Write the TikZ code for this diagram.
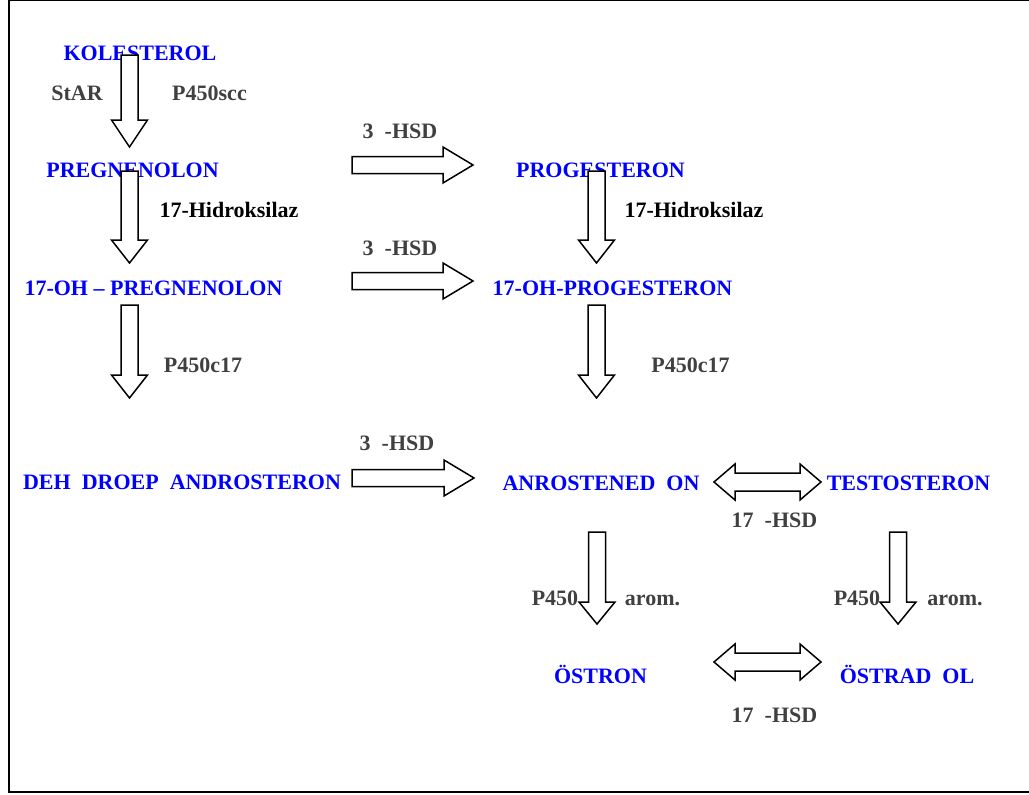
\documentclass[tikz,border=0pt]{standalone}
\usepackage{fontspec}
\setmainfont{Liberation Serif}
\usepackage{xcolor}
\usepackage{tikz}
\usetikzlibrary{calc}
\definecolor{steroidblue}{RGB}{0,0,255}
\definecolor{enzymegray}{RGB}{64,64,64}

% hollow block arrows between two named coordinates
\newcommand\fatdown[3][23pt]{%
  \draw[fatarrow] let \p1=(#2), \p2=(#3) in
    (\x1-8.5pt,\y1) -- (\x1+8.5pt,\y1) -- (\x1+8.5pt,\y2+#1) -- (\x1+18pt,\y2+#1)
    -- (\x1,\y2) -- (\x1-18pt,\y2+#1) -- (\x1-8.5pt,\y2+#1) -- cycle;}
\newcommand\fatright[2]{%
  \draw[fatarrow] let \p1=(#1), \p2=(#2) in
    (\x1,\y1+8.5pt) -- (\x2-30pt,\y1+8.5pt) -- (\x2-30pt,\y1+18pt) -- (\x2,\y1)
    -- (\x2-30pt,\y1-18pt) -- (\x2-30pt,\y1-8.5pt) -- (\x1,\y1-8.5pt) -- cycle;}
\newcommand\fatboth[2]{%
  \draw[fatarrow] let \p1=(#1), \p2=(#2) in
    (\x1,\y1) -- (\x1+21pt,\y1+18pt) -- (\x1+21pt,\y1+9pt) -- (\x2-21pt,\y1+9pt)
    -- (\x2-21pt,\y1+18pt) -- (\x2,\y1) -- (\x2-21pt,\y1-18pt) -- (\x2-21pt,\y1-9pt)
    -- (\x1+21pt,\y1-9pt) -- (\x1+21pt,\y1-18pt) -- cycle;}

\begin{document}
\begin{tikzpicture}[
    x=1pt, y=-1pt,
    font=\fontsize{22}{26}\selectfont\bfseries,
    txt/.style={anchor=base, inner sep=0pt},
    steroid/.style={txt, text=steroidblue},
    enzyme/.style={txt, text=enzymegray},
    hydroxylase/.style={txt, text=black},
    fatarrow/.style={draw=black, fill=white, line width=1.5pt, line join=miter}
]
\useasboundingbox (0,0) rectangle (1029,795);
\draw[line width=1pt] (8.5,0.5) -- (1029,0.5);
\draw[line width=2pt] (9,0) -- (9,792) -- (1029,792);

% compounds
\node[steroid] (kolesterol) at (140,60) {KOLESTEROL};
\node[steroid] (pregnenolon) at (132.5,177) {PREGNENOLON};
\node[steroid] (ohpregnenolon) at (153.5,295) {17-OH -- PREGNENOLON};
\node[steroid] (dhea) at (182,489) {DEH\ \ DROEP\ \ ANDROSTERON};
\node[steroid] (progesteron) at (600.5,177) {PROGESTERON};
\node[steroid] (ohprogesteron) at (612.5,295) {17-OH-PROGESTERON};
\node[steroid] (androstenedion) at (601,490) {ANROSTENED\ \ ON};
\node[steroid] (testosteron) at (908.5,490) {TESTOSTERON};
\node[steroid] (ostron) at (600.5,683) {ÖSTRON};
\node[steroid] (ostradiol) at (907,683) {ÖSTRAD\ \ OL};

% enzymes
\node[enzyme] (star) at (77,100) {StAR};
\node[enzyme] (scc) at (209.5,100) {P450scc};
\node[hydroxylase] (hydrL) at (229,217) {17-Hidroksilaz};
\node[hydroxylase] (hydrR) at (694,217) {17-Hidroksilaz};
\node[enzyme] (cypL) at (203,372) {P450c17};
\node[enzyme] (cypR) at (690.5,372) {P450c17};
\node[enzyme] (hsdA) at (400,138) {3\ \ -HSD};
\node[enzyme] (hsdB) at (400,255) {3\ \ -HSD};
\node[enzyme] (hsdC) at (397,450) {3\ \ -HSD};
\node[enzyme] (hsdD) at (774.5,527) {17\ \ -HSD};
\node[enzyme] (hsdE) at (774.5,722) {17\ \ -HSD};
\node[enzyme] (aromL1) at (555,605) {P450};
\node[enzyme] (aromL2) at (652.5,605) {arom.};
\node[enzyme] (aromR1) at (857,605) {P450};
\node[enzyme] (aromR2) at (955,605) {arom.};

% arrow ends
\coordinate (d1s) at (129.5,55);  \coordinate (d1e) at (129.5,147);
\coordinate (d2s) at (129.5,171); \coordinate (d2e) at (129.5,263);
\coordinate (d3s) at (129.5,305); \coordinate (d3e) at (129.5,398);
\coordinate (d4s) at (596.5,171); \coordinate (d4e) at (596.5,263);
\coordinate (d5s) at (596.5,305); \coordinate (d5e) at (596.5,398);
\coordinate (d6s) at (597,532);   \coordinate (d6e) at (597,624);
\coordinate (d7s) at (898,532);   \coordinate (d7e) at (898,624);
\coordinate (r1s) at (352,165);   \coordinate (r1e) at (473,165);
\coordinate (r2s) at (352,281);   \coordinate (r2e) at (473,281);
\coordinate (r3s) at (352,478);   \coordinate (r3e) at (474,478);
\coordinate (b1s) at (714,482);   \coordinate (b1e) at (821,482);
\coordinate (b2s) at (714,662);   \coordinate (b2e) at (821,662);

\fatdown[27pt]{d1s}{d1e}
\fatdown{d2s}{d2e}
\fatdown{d3s}{d3e}
\fatdown{d4s}{d4e}
\fatdown{d5s}{d5e}
\fatdown[22pt]{d6s}{d6e}
\fatdown[22pt]{d7s}{d7e}
\fatright{r1s}{r1e}
\fatright{r2s}{r2e}
\fatright{r3s}{r3e}
\fatboth{b1s}{b1e}
\fatboth{b2s}{b2e}
\end{tikzpicture}
\end{document}
